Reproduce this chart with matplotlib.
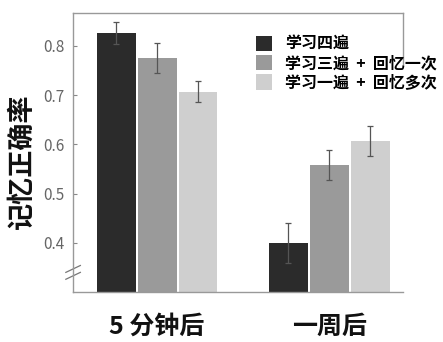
import numpy as np
import matplotlib.pyplot as plt

plt.rcParams['font.family'] = ['Noto Sans CJK SC', 'DejaVu Sans']

groups = ["5 分钟后", "一周后"]
series = ["学习四遍", "学习三遍  +  回忆一次", "学习一遍  +  回忆多次"]
values = [
    [0.826, 0.400],
    [0.776, 0.558],
    [0.707, 0.607],
]
errors = [
    [0.022, 0.040],
    [0.031, 0.031],
    [0.021, 0.031],
]
colors = ["#2b2b2b", "#9a9a9a", "#cfcfcf"]

fig = plt.figure(figsize=(4.43, 3.42), dpi=100)
ax = fig.add_axes([0.165, 0.146, 0.745, 0.816])

x = np.arange(len(groups))
width = 0.226
step = 0.238
for i, (name, vals, errs) in enumerate(zip(series, values, errors)):
    ax.bar(x + (i - 1) * step, vals, width=width, color=colors[i], label=name,
           yerr=errs, capsize=2,
           error_kw=dict(ecolor="#555555", elinewidth=0.9, capthick=0.9))

ax.set_xlim(-0.488, 1.43)
ax.set_ylim(0.30, 0.867)
ax.set_yticks([0.4, 0.5, 0.6, 0.7, 0.8])
ax.set_yticklabels(["0.4", "0.5", "0.6", "0.7", "0.8"])
ax.tick_params(axis="y", direction="in", length=3, color="#888888",
               labelcolor="#666666", labelsize=11, pad=6)
ax.set_xticks([])
for s in ["left", "bottom", "top", "right"]:
    ax.spines[s].set_color("#999999")
    ax.spines[s].set_linewidth(1.0)
ax.spines["right"].set_bounds(0.76, 0.867)

# marcas de corte del eje
for yb in [0.333, 0.347]:
    ax.plot([-0.022, 0.022], [yb - 0.007, yb + 0.007], color="#777777", lw=0.9,
            transform=ax.get_yaxis_transform(), clip_on=False)

for xi, g in zip(x, groups):
    ax.text(xi, -0.125, g, transform=ax.get_xaxis_transform(), ha="center",
            va="center", fontsize=18, fontweight="bold", color="#111111")

ax.text(-0.155, 0.47, "记忆正确率", transform=ax.transAxes, rotation=90,
        ha="center", va="center", fontsize=19.5, fontweight="bold",
        color="#111111")

leg = ax.legend(loc="upper right", bbox_to_anchor=(1.145, 0.97), frameon=False,
                handlelength=1.0, handleheight=1.1, handletextpad=0.8,
                labelspacing=0.2, prop=dict(size=11.5, weight="bold"))

fig.savefig("out.png", dpi=100)
